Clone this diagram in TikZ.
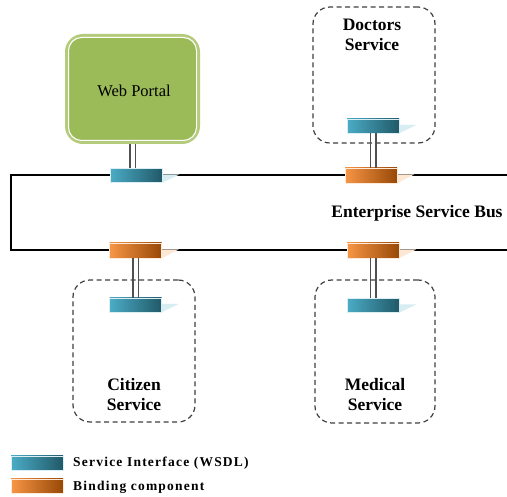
\documentclass[tikz,border=0pt]{standalone}
\usepackage{fontspec}
\setmainfont{Liberation Serif}
\definecolor{wpfill}{HTML}{9BBB59}
\definecolor{wpedge}{HTML}{B3CB7B}
\definecolor{ifl}{HTML}{4BACC6}
\definecolor{ifd}{HTML}{215968}
\definecolor{bdl}{HTML}{F79646}
\definecolor{bdd}{HTML}{984807}
\definecolor{boxedge}{HTML}{404040}
\definecolor{connc}{HTML}{505050}
\begin{document}
\begin{tikzpicture}[x=1pt,y=-1pt,
  iface/.style={minimum width=52pt,minimum height=14pt,inner sep=0pt,draw=white!80!ifl,line width=0.4pt,left color=ifl,right color=ifd},
  bind/.style={minimum width=52pt,minimum height=15pt,inner sep=0pt,draw=white!80!bdl,line width=0.4pt,left color=bdl,right color=bdd},
  svcbox/.style={draw=boxedge,line width=1.2pt,dash pattern=on 5pt off 3.5pt,rounded corners=17pt,inner sep=0pt},
  lbl/.style={font=\bfseries\fontsize{17.5}{20}\selectfont,align=center,inner sep=0pt},
  leg/.style={font=\bfseries\fontsize{13.5}{16}\selectfont\addfontfeatures{LetterSpace=9},anchor=west,inner sep=0pt},
  conn/.style={draw=connc,line width=1.5pt},
  bus/.style={draw=black,line width=2pt},
  ishade/.style={fill=ifl!22,draw=none},
  bshade/.style={fill=bdl!22,draw=none}]
\useasboundingbox (0,0) rectangle (507,497);
\fill[white] (0,0) rectangle (507,497);
% bus
\coordinate (bTL) at (11,175);
\coordinate (bTR) at (507,175);
\coordinate (bBL) at (11,250);
\coordinate (bBR) at (507,250);
\draw[bus] (bTR) -- (bTL) -- (bBL) -- (bBR);
% web portal
\node[minimum width=131pt,minimum height=106pt,rounded corners=16pt,fill=wpfill,draw=wpedge,line width=4pt,inner sep=0pt] (wp) at (132.5,89) {};
\draw[white,line width=1pt,rounded corners=13pt] ([xshift=3.5pt,yshift=-3.5pt]wp.north west) rectangle ([xshift=-3.5pt,yshift=3.5pt]wp.south east);
\node[font=\fontsize{16.5}{18}\selectfont,inner sep=0pt] (wpt) at (134,91) {Web Portal};
% service boxes
\node[svcbox,minimum width=122pt,minimum height=136pt] (ds) at (374,75) {};
\node[svcbox,minimum width=122pt,minimum height=142pt] (cs) at (134,351) {};
\node[svcbox,minimum width=120pt,minimum height=143pt] (ms) at (375,351.5) {};
\node[lbl] (dst) at (372,35) {Doctors\\Service};
\node[lbl] (cst) at (134,395) {Citizen\\Service};
\node[lbl] (mst) at (375,395) {Medical\\Service};
% bus components
\node[iface] (wpi) at (136,175.5) {};
\node[bind] (dsb) at (371,175.5) {};
\node[bind] (cb) at (135.5,250.5) {};
\node[bind] (mb) at (373,250.5) {};
% service interfaces
\node[iface] (dsi) at (373,126) {};
\node[iface] (csi) at (135.5,305) {};
\node[iface] (msi) at (373,305.5) {};
% pale reflections
\foreach \n in {dsi,csi,msi,wpi}{
  \fill[ishade] ([yshift=1pt]\n.east) -- ([xshift=17pt,yshift=1pt]\n.east) -- (\n.south east) -- cycle;
}
\foreach \n in {dsb,cb,mb}{
  \fill[bshade] ([yshift=1pt]\n.east) -- ([xshift=17pt,yshift=1pt]\n.east) -- (\n.south east) -- cycle;
}
% connectors (double lines)
\foreach \s in {-2.75pt,2.75pt}{
  \draw[conn] ([xshift=\s]wp.south) -- ([xshift=\s]wp.south |- wpi.north);
  \draw[conn] ([xshift=\s]dsi.south) -- ([xshift=\s]dsi.south |- dsb.north);
  \draw[conn] ([xshift=\s]cb.south) -- ([xshift=\s]cb.south |- csi.north);
  \draw[conn] ([xshift=\s]mb.south) -- ([xshift=\s]mb.south |- msi.north);
}
% bus label
\node[lbl] (esb) at (417,213) {Enterprise Service Bus};
% legend
\node[iface,minimum height=14pt] (lgi) at (37,463) {};
\node[bind,minimum height=14pt] (lgb) at (37,486) {};
\node[leg] (lgit) at (73,463) {Service Interface (WSDL)};
\node[leg] (lgbt) at (73,487) {Binding component};
\end{tikzpicture}
\end{document}
